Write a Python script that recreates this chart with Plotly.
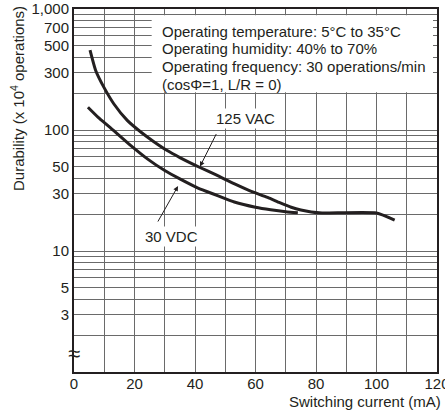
import plotly.graph_objects as go

# Data
vac_x = [5.3, 7.2, 9.9, 13.2, 17.6, 22.5, 26.4, 30.8, 35, 41.65, 47, 52.9, 58, 64, 68, 71.8, 75, 78.4, 82, 100, 106]
vac_y = [458, 309, 225, 164, 120, 94.4, 80, 67.6, 59.2, 49.0, 42.5, 36.0, 31.6, 27.7, 25.1, 23.0, 21.8, 21.0, 20.6, 20.6, 18.0]

vdc_x = [4.6, 8, 11.9, 17.9, 24.6, 30, 35, 41, 47, 53, 60, 65, 70, 74]
vdc_y = [154, 127, 105, 77.6, 56.9, 46.2, 39.4, 33.1, 29.0, 25.4, 23.0, 21.9, 21.1, 20.7]

y_tick_vals = [3, 5, 10, 30, 50, 100, 300, 500, 700, 1000]
y_tick_text = ["3", "5", "10", "30", "50", "100", "300", "500", "700", "1,000"]
y_minor_vals = [2, 4, 6, 7, 8, 9, 20, 40, 60, 70, 80, 90, 200, 400, 600, 800, 900]
x_tick_vals = [0, 20, 40, 60, 80, 100, 120]

conditions = ["Operating temperature: 5°C to 35°C",
              "Operating humidity: 40% to 70%",
              "Operating frequency: 30 operations/min",
              "(cosΦ=1, L/R = 0)"]
condition_rows_y = [0.938, 0.890, 0.8416, 0.793]

INK = "#231f20"
GRID = "#6a6a6a"
FONT = "Liberation Sans, Arial, sans-serif"
FS = 15

fig = go.Figure()
fig.add_trace(go.Scatter(x=vac_x, y=vac_y, mode="lines",
                         line=dict(color=INK, width=3, shape="spline", smoothing=0.5),
                         name="125 VAC", showlegend=False, hoverinfo="skip"))
fig.add_trace(go.Scatter(x=vdc_x, y=vdc_y, mode="lines",
                         line=dict(color=INK, width=3, shape="spline", smoothing=0.5),
                         name="30 VDC", showlegend=False, hoverinfo="skip"))

# Conditions box
fig.add_shape(type="rect", xref="paper", yref="paper", x0=0.214, x1=0.989, y0=0.771, y1=0.983,
              fillcolor="white", line=dict(width=0), layer="above")
for txt, yy in zip(conditions, condition_rows_y):
    fig.add_annotation(xref="paper", yref="paper", x=0.236, y=yy, xanchor="left", yanchor="middle",
                       align="left", showarrow=False, text=txt,
                       font=dict(family=FONT, size=FS, color=INK))

# Curve labels with arrows
fig.add_annotation(x=56.7, y=2.099, text="125 VAC", showarrow=False, bgcolor="white",
                   xanchor="center", yanchor="middle",
                   font=dict(family=FONT, size=FS, color=INK), borderpad=1)
fig.add_annotation(x=41.65, y=1.698, text="", showarrow=True, ax=17, ay=-34,
                   arrowhead=2, arrowsize=1, arrowwidth=1, arrowcolor=INK)
fig.add_annotation(x=32.2, y=1.124, text="30 VDC", showarrow=False, bgcolor="white",
                   xanchor="center", yanchor="middle",
                   font=dict(family=FONT, size=FS, color=INK), borderpad=1)
fig.add_annotation(x=34.4, y=1.537, text="", showarrow=True, ax=-21, ay=37,
                   arrowhead=2, arrowsize=1, arrowwidth=1, arrowcolor=INK)

# Axis titles
fig.add_annotation(xref="paper", yref="paper", x=-0.157, y=0.752, textangle=-90,
                   xanchor="center", yanchor="middle",
                   text="Durability (x 10<sup>4</sup> operations)", showarrow=False,
                   font=dict(family=FONT, size=FS, color=INK))
fig.add_annotation(xref="paper", yref="paper", x=1.0165, y=-0.0826, xanchor="right", yanchor="middle",
                   text="Switching current (mA)", showarrow=False,
                   font=dict(family=FONT, size=FS, color=INK))
# Axis break mark
fig.add_annotation(xref="paper", yref="paper", x=0.0, y=0.05, text="≈", showarrow=False,
                   xanchor="center", yanchor="middle",
                   font=dict(family=FONT, size=22, color=INK))

fig.update_xaxes(range=[0, 120], tickvals=x_tick_vals, showgrid=True, gridcolor=GRID, gridwidth=1,
                 minor=dict(dtick=10, showgrid=True, gridcolor=GRID, gridwidth=1),
                 showline=True, linecolor=INK, linewidth=2, mirror=True, ticks="",
                 zeroline=False, automargin=False, ticklabeloverflow="allow",
                 ticklabelstandoff=-3,
                 tickfont=dict(family=FONT, size=FS, color=INK))
fig.update_yaxes(type="log", range=[0, 3], tickvals=y_tick_vals, ticktext=y_tick_text,
                 showgrid=True, gridcolor=GRID, gridwidth=1,
                 minor=dict(tickvals=y_minor_vals, showgrid=True, gridcolor=GRID, gridwidth=1),
                 showline=True, linecolor=INK, linewidth=2, mirror=True, ticks="",
                 zeroline=False, automargin=False, ticklabeloverflow="allow",
                 tickfont=dict(family=FONT, size=FS, color=INK))

fig.update_layout(width=445, height=414, margin=dict(l=74, r=8, t=9, b=42),
                  plot_bgcolor="white", paper_bgcolor="white", hovermode=False,
                  font=dict(family=FONT, size=FS, color=INK))

# Remove the default page margin so the figure fills the 445x414 window exactly.
fig.write_html("out.html", config={"displayModeBar": False, "staticPlot": True},
               post_script="document.body.style.margin='0';document.body.style.overflow='hidden';")
